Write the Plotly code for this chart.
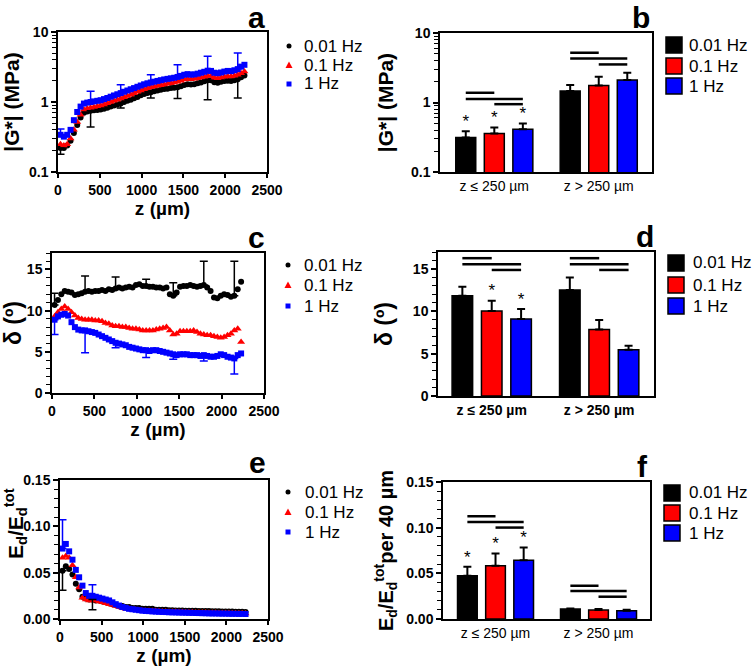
import plotly.graph_objects as go

W, H = 755, 667
FONT = "Liberation Sans, Arial, sans-serif"

FREQS = ["0.01 Hz", "0.1 Hz", "1 Hz"]
COLORS = ["#000000", "#ff0000", "#0000ff"]
SYMBOLS = ["circle", "triangle-up", "square"]

# depth of each 40 um slice (um)
Z_UM = [30, 70, 110, 150, 190, 230, 270, 310, 350, 390, 430, 470, 510, 550,
        590, 630, 670, 710, 750, 790, 830, 870, 910, 950, 990, 1030, 1070, 1110,
        1150, 1190, 1230, 1270, 1310, 1350, 1390, 1430, 1470, 1510, 1550, 1590,
        1630, 1670, 1710, 1750, 1790, 1830, 1870, 1910, 1950, 1990, 2030, 2070,
        2110, 2150, 2190, 2230]
# slices that carry an error bar
ERR_AT = [0, 9, 18, 27, 35, 44, 53]
ERR_AT_E = [0, 9]

# a: |G*| (MPa)
G_001 = [0.22, 0.22, 0.24, 0.28, 0.36, 0.47, 0.60, 0.70, 0.73, 0.75, 0.76, 0.77, 0.78, 0.80,
         0.83, 0.86, 0.89, 0.92, 0.95, 1.00, 1.04, 1.08, 1.13, 1.18, 1.25, 1.30, 1.34, 1.38,
         1.42, 1.46, 1.50, 1.53, 1.55, 1.58, 1.60, 1.63, 1.68, 1.75, 1.80, 1.78, 1.80, 1.85,
         1.90, 1.98, 2.05, 2.05, 1.92, 1.88, 1.95, 2.00, 2.02, 2.00, 2.05, 2.12, 2.25, 2.40]
G_01 = [0.25, 0.24, 0.25, 0.30, 0.40, 0.52, 0.66, 0.78, 0.81, 0.83, 0.85, 0.87, 0.89, 0.92,
        0.96, 1.00, 1.04, 1.08, 1.12, 1.17, 1.22, 1.27, 1.33, 1.40, 1.46, 1.52, 1.57, 1.62,
        1.66, 1.70, 1.74, 1.78, 1.82, 1.86, 1.90, 1.95, 2.02, 2.10, 2.15, 2.12, 2.14, 2.18,
        2.24, 2.30, 2.38, 2.36, 2.22, 2.18, 2.24, 2.30, 2.34, 2.32, 2.38, 2.46, 2.58, 2.72]
G_1 = [0.34, 0.32, 0.34, 0.40, 0.55, 0.72, 0.86, 0.95, 0.98, 1.00, 1.02, 1.04, 1.06, 1.10,
       1.14, 1.19, 1.24, 1.29, 1.34, 1.40, 1.46, 1.52, 1.58, 1.65, 1.72, 1.79, 1.85, 1.90,
       1.95, 2.00, 2.05, 2.10, 2.14, 2.18, 2.22, 2.28, 2.36, 2.45, 2.50, 2.46, 2.48, 2.54,
       2.62, 2.70, 2.80, 2.78, 2.62, 2.58, 2.64, 2.72, 2.78, 2.76, 2.84, 2.95, 3.20, 3.40]
G_1_SD_UP = [0.07, 0.42, 0.43, 0.55, 1.12, 1.70, 2.05]
G_001_SD_DN = [0.04, 0.31, 0.13, 0.24, 0.51, 0.97, 0.98]

# c: phase angle (deg)
D_001 = [10.7, 11.3, 12.0, 12.4, 12.3, 12.2, 11.9, 12.0, 12.1, 12.3, 12.4, 12.3, 12.4, 12.4,
         12.5, 12.4, 12.6, 12.5, 12.7, 12.8, 12.7, 12.8, 12.9, 12.8, 13.1, 13.2, 13.0, 13.0,
         12.9, 12.9, 12.8, 12.8, 12.7, 12.8, 12.0, 11.8, 12.2, 12.9, 13.0, 13.0, 13.1, 13.0,
         12.9, 13.0, 13.1, 12.8, 12.4, 11.6, 11.5, 11.8, 12.0, 11.9, 11.7, 11.8, 12.6, 13.5]
D_01 = [9.3, 9.8, 10.2, 10.5, 10.2, 9.8, 9.4, 9.1, 9.0, 8.9, 8.9, 8.9, 8.8, 8.8,
        8.7, 8.5, 8.4, 8.2, 8.1, 8.1, 8.0, 8.0, 7.9, 7.8, 7.8, 7.7, 7.6, 7.6,
        7.6, 7.6, 7.7, 7.8, 7.9, 8.0, 7.6, 7.1, 7.2, 7.5, 7.5, 7.5, 7.5, 7.6,
        7.4, 7.2, 7.1, 7.0, 7.0, 6.9, 6.8, 6.7, 6.8, 7.0, 7.2, 7.6, 7.8, 6.2]
D_1 = [8.9, 9.3, 9.5, 9.6, 9.4, 8.6, 8.0, 7.7, 7.6, 7.6, 7.5, 7.4, 7.3, 7.1,
       6.9, 6.7, 6.5, 6.3, 6.1, 6.0, 5.9, 5.8, 5.6, 5.5, 5.4, 5.3, 5.2, 5.2,
       5.1, 5.2, 5.2, 5.1, 5.0, 4.9, 4.8, 4.7, 4.6, 4.7, 4.7, 4.7, 4.6, 4.6,
       4.6, 4.5, 4.6, 4.5, 4.4, 4.4, 4.5, 4.7, 4.6, 4.4, 4.3, 4.2, 4.6, 4.8]
D_001_SD_UP = [1.4, 1.9, 1.4, 0.8, 1.6, 2.9, 4.2]
D_1_SD_DN = [1.8, 2.7, 0.6, 0.9, 0.6, 0.7, 1.9]

# e: dissipated energy fraction
E_001 = [0.052, 0.057, 0.054, 0.048, 0.038, 0.032, 0.024, 0.022, 0.021, 0.021, 0.020, 0.020,
         0.019, 0.018, 0.017, 0.016, 0.015, 0.014, 0.014, 0.013, 0.013, 0.012, 0.012, 0.012,
         0.011, 0.011, 0.011, 0.011, 0.010, 0.010, 0.010, 0.010, 0.0095, 0.0095, 0.0093,
         0.0092, 0.0091, 0.0090, 0.0090, 0.0089, 0.0088, 0.0087, 0.0086, 0.0085, 0.0085,
         0.0084, 0.0083, 0.0083, 0.0082, 0.0081, 0.0080, 0.0080, 0.0079, 0.0078, 0.0077, 0.0076]
E_01 = [0.066, 0.068, 0.066, 0.058, 0.045, 0.034, 0.023, 0.021, 0.020, 0.020, 0.020, 0.019,
        0.018, 0.017, 0.016, 0.015, 0.014, 0.013, 0.012, 0.011, 0.011, 0.010, 0.010, 0.0095,
        0.0090, 0.0090, 0.0088, 0.0086, 0.0085, 0.0083, 0.0082, 0.0080, 0.0079, 0.0078, 0.0077,
        0.0076, 0.0075, 0.0074, 0.0073, 0.0072, 0.0071, 0.0070, 0.0070, 0.0069, 0.0068,
        0.0067, 0.0067, 0.0066, 0.0065, 0.0065, 0.0064, 0.0063, 0.0063, 0.0062, 0.0061, 0.0060]
E_1 = [0.076, 0.081, 0.073, 0.064, 0.053, 0.045, 0.036, 0.028, 0.025, 0.025, 0.024, 0.023,
       0.022, 0.021, 0.020, 0.018, 0.016, 0.0145, 0.013, 0.012, 0.011, 0.0105, 0.010, 0.0095,
       0.0090, 0.0087, 0.0085, 0.0082, 0.0080, 0.0078, 0.0076, 0.0075, 0.0073, 0.0072, 0.0071,
       0.0070, 0.0069, 0.0068, 0.0067, 0.0066, 0.0065, 0.0064, 0.0063, 0.0062, 0.0061,
       0.0060, 0.0060, 0.0059, 0.0058, 0.0058, 0.0057, 0.0056, 0.0056, 0.0055, 0.0055, 0.0054]
E_1_SD_UP = [0.031, 0.012]
E_001_SD_DN = [0.021, 0.011]

# b, d, f: layer averages
GROUPS = ["z \u2264 250 \u00b5m", "z > 250 \u00b5m"]
GB_MEAN = [[0.313, 1.46], [0.357, 1.76], [0.412, 2.10]]
GB_SD = [[0.073, 0.32], [0.079, 0.58], [0.086, 0.58]]
DB_MEAN = [[11.84, 12.5], [10.03, 7.86], [9.08, 5.45]]
DB_SD = [[1.06, 1.5], [1.22, 1.1], [1.18, 0.47]]
EB_MEAN = [[0.0473, 0.0109], [0.0582, 0.0098], [0.0644, 0.0091]]
EB_SD = [[0.0099, 0.0007], [0.0135, 0.0011], [0.0139, 0.0011]]
# (group, frequency) pairs marked with *
GB_STARS = [(0, 0), (0, 1), (0, 2)]
DB_STARS = [(0, 1), (0, 2)]
EB_STARS = [(0, 0), (0, 1), (0, 2)]
# significance bar heights per group, for pairs (0.01,0.1), (0.01,1), (0.1,1)
PAIRS = [(0, 1), (0, 2), (1, 2)]
GB_SIG = [[1.38, 1.12, 0.946], [5.2, 4.31, 3.53]]
DB_SIG = [[16.27, 15.55, 14.88], [16.27, 15.55, 14.88]]
EB_SIG = [[0.1125, 0.1063, 0.1001], [0.0364, 0.0306, 0.0244]]

BARGAP, BARGROUPGAP = 0.18, 0.30

fig = go.Figure()


def X(px):
    return px / W


def Y(py):
    return 1 - py / H


def ids(n):
    s = "" if n == 1 else str(n)
    return "x" + s, "y" + s, "xaxis" + s, "yaxis" + s


def base_axis(**kw):
    d = dict(showline=True, linecolor="black", linewidth=1.5, mirror=True,
             ticks="outside", ticklen=5, tickwidth=1.5, tickcolor="black",
             showgrid=False, zeroline=False, automargin=False,
             tickfont=dict(family=FONT, size=14, color="black", weight="bold"))
    d.update(kw)
    return d


def minor(dtick):
    return dict(ticks="outside", ticklen=4, tickwidth=1, tickcolor="black",
                dtick=dtick, showgrid=False)


def title(text, size=20, standoff=None):
    t = dict(text=text, font=dict(family=FONT, size=size, color="black", weight="bold"))
    if standoff is not None:
        t["standoff"] = standoff
    return t


def profile(n, series, up, dn, err_at):
    xa, ya, _, _ = ids(n)
    for name, color, sym, vals in zip(FREQS, COLORS, SYMBOLS, series):
        fig.add_trace(go.Scatter(
            x=Z_UM, y=vals, mode="markers", name=name, showlegend=False,
            marker=dict(symbol=sym, size=7 if sym == "triangle-up" else 6, color=color, line=dict(width=0)),
            xaxis=xa, yaxis=ya))
    for k, sd, upward in (up + (True,), dn + (False,)):
        vals = series[k]
        fig.add_trace(go.Scatter(
            x=[Z_UM[i] for i in err_at], y=[vals[i] for i in err_at], mode="markers",
            marker=dict(size=6, color=COLORS[k], opacity=0), showlegend=False,
            error_y=dict(type="data", symmetric=False,
                         array=sd if upward else [0] * len(sd),
                         arrayminus=[0] * len(sd) if upward else sd,
                         color=COLORS[k], thickness=1.5, width=4),
            xaxis=xa, yaxis=ya, hoverinfo="skip"))


def center(g, k):
    slot = (1 - BARGAP) / 3
    return g + (k - 1) * slot


def bars(n, means, sds, stars, sig):
    xa, ya, _, _ = ids(n)
    for k, (name, color) in enumerate(zip(FREQS, COLORS)):
        fig.add_trace(go.Bar(
            x=[0, 1], y=means[k], name=name, showlegend=False,
            marker=dict(color=color, line=dict(color="black", width=1.5)),
            error_y=dict(type="data", symmetric=False, array=sds[k], arrayminus=[0, 0],
                         color="black", thickness=2, width=4),
            xaxis=xa, yaxis=ya))
    fig.add_trace(go.Scatter(
        x=[center(g, k) for g, k in stars],
        y=[means[k][g] + sds[k][g] for g, k in stars],
        mode="text", text=["*"] * len(stars), textposition="top center",
        textfont=dict(family=FONT, size=17, color="black"),
        showlegend=False, xaxis=xa, yaxis=ya, hoverinfo="skip"))
    lx, ly = [], []
    for g, levels in enumerate(sig):
        for (k0, k1), lev in zip(PAIRS, levels):
            lx += [center(g, k0), center(g, k1), None]
            ly += [lev, lev, None]
    fig.add_trace(go.Scatter(x=lx, y=ly, mode="lines", line=dict(color="black", width=2.5),
                             showlegend=False, xaxis=xa, yaxis=ya, hoverinfo="skip"))


profile(1, [G_001, G_01, G_1], (2, G_1_SD_UP), (0, G_001_SD_DN), ERR_AT)
bars(2, GB_MEAN, GB_SD, GB_STARS, GB_SIG)
profile(3, [D_001, D_01, D_1], (0, D_001_SD_UP), (2, D_1_SD_DN), ERR_AT)
bars(4, DB_MEAN, DB_SD, DB_STARS, DB_SIG)
profile(5, [E_001, E_01, E_1], (2, E_1_SD_UP), (0, E_001_SD_DN), ERR_AT_E)
bars(6, EB_MEAN, EB_SD, EB_STARS, EB_SIG)

# plot boxes in pixels: (left, right), (top, bottom)
BOX = {1: ((58, 267), (32, 172)), 2: ((440, 652), (33, 172)),
       3: ((52, 264), (253, 393)), 4: ((438, 654), (252, 396)),
       5: ((60, 268), (480, 619)), 6: ((443, 650), (482, 619))}

layout = {}
for n, ((l, r), (t, b)) in BOX.items():
    xa, ya, xk, yk = ids(n)
    layout[xk] = dict(domain=[X(l), X(r)], anchor=ya)
    layout[yk] = dict(domain=[Y(b), Y(t)], anchor=xa)

z_title = title("z (\u00b5m)", 19, 4)
for n in (1, 3, 5):
    _, _, xk, _ = ids(n)
    layout[xk].update(base_axis(range=[0, 2500], dtick=500, ticklen=4, title=z_title))
for n, fontw, rng in ((2, "normal", [-0.52, 1.51]), (4, "bold", [-0.50, 1.51]), (6, "normal", [-0.51, 1.50])):
    _, _, xk, _ = ids(n)
    layout[xk].update(base_axis(range=rng, tickvals=[0, 1], ticktext=GROUPS, ticks="",
                                tickfont=dict(family=FONT, size=14, color="black", weight=fontw)))

layout["yaxis"].update(base_axis(type="log", range=[-1, 1], dtick=1, minor=minor("D1"),
                                 title=title("|G*| (MPa)", 21)))
layout["yaxis2"].update(base_axis(type="log", range=[-1, 1], dtick=1, minor=minor("D1"),
                                  title=title("|G*| (MPa)", 21, 12)))
layout["yaxis3"].update(base_axis(range=[0, 17], dtick=5, minor=minor(1),
                                  title=title("\u03b4 (\u00ba)", 23)))
layout["yaxis4"].update(base_axis(range=[0, 17], dtick=5, minor=minor(1),
                                  title=title("\u03b4 (\u00ba)", 23, 14)))
layout["yaxis5"].update(base_axis(range=[0, 0.15], dtick=0.05, tickformat=".2f", minor=minor(0.01)))
layout["yaxis6"].update(base_axis(range=[0, 0.15], dtick=0.05, tickformat=".2f", minor=minor(0.01),
                                  title=title("E<sub>d</sub>/E<sub>d</sub><sup>tot</sup>per 40 \u00b5m", 20)))

annotations = []
shapes = []

# y title of panel e sits above the axis centre in the original
annotations.append(dict(text="<b>E<sub>d</sub>/E<sub>d</sub><sup>tot</sup></b>", x=X(15), y=Y(524),
                        xref="paper", yref="paper", xanchor="center", yanchor="middle",
                        textangle=-90, showarrow=False,
                        font=dict(family=FONT, size=21, color="black")))

# panel letters: (right edge px, baseline px)
for letter, (rx, base) in {"a": (267, 28), "b": (652, 28), "c": (267, 248),
                           "d": (656, 247), "e": (268, 473), "f": (650, 477)}.items():
    annotations.append(dict(text="<b>%s</b>" % letter, x=X(rx), y=Y(base - 10.4), xref="paper", yref="paper",
                            xanchor="right", yanchor="middle", showarrow=False,
                            font=dict(family=FONT, size=30, color="black")))

# keys: symbol centre x, text left x, row centres y
MARKER_KEYS = [(289, 302, (46, 65, 84)), (288, 302, (265, 285, 306)), (288, 303, (492, 512, 532))]
BOX_KEYS = [(674, 687, (45, 66, 86)), (676, 691, (263, 285, 306)), (672, 687, (493, 513, 533))]


def key_text(x, y, s):
    annotations.append(dict(text=s, x=X(x), y=Y(y), xref="paper", yref="paper",
                            xanchor="left", yanchor="middle", showarrow=False,
                            font=dict(family=FONT, size=17, color="black")))


for cx, tx, rows in MARKER_KEYS:
    for k, cy in enumerate(rows):
        c = COLORS[k]
        if SYMBOLS[k] == "circle":
            shapes.append(dict(type="circle", xref="paper", yref="paper", x0=X(cx - 2.5), x1=X(cx + 2.5),
                               y0=Y(cy + 2.5), y1=Y(cy - 2.5), fillcolor=c, line=dict(width=0)))
        elif SYMBOLS[k] == "triangle-up":
            p = "M %f,%f L %f,%f L %f,%f Z" % (X(cx - 3.5), Y(cy + 3), X(cx + 3.5), Y(cy + 3), X(cx), Y(cy - 3.5))
            shapes.append(dict(type="path", xref="paper", yref="paper", path=p, fillcolor=c, line=dict(width=0)))
        else:
            shapes.append(dict(type="rect", xref="paper", yref="paper", x0=X(cx - 2.5), x1=X(cx + 2.5),
                               y0=Y(cy + 2.5), y1=Y(cy - 2.5), fillcolor=c, line=dict(width=0)))
        key_text(tx, cy, FREQS[k])

for cx, tx, rows in BOX_KEYS:
    for k, cy in enumerate(rows):
        shapes.append(dict(type="rect", xref="paper", yref="paper", x0=X(cx - 8), x1=X(cx + 8),
                           y0=Y(cy + 8), y1=Y(cy - 8), fillcolor=COLORS[k],
                           line=dict(color="black", width=1.5)))
        key_text(tx, cy, FREQS[k])

fig.update_layout(
    template="none",
    width=W, height=H, margin=dict(l=0, r=0, t=0, b=0, pad=0), autosize=False,
    paper_bgcolor="white", plot_bgcolor="white", showlegend=False,
    barmode="group", bargap=BARGAP, bargroupgap=BARGROUPGAP,
    font=dict(family=FONT, color="black"),
    annotations=annotations, shapes=shapes, **layout)

fig.write_html("out.html", config={"displayModeBar": False},
               post_script="document.body.style.margin='0';")
